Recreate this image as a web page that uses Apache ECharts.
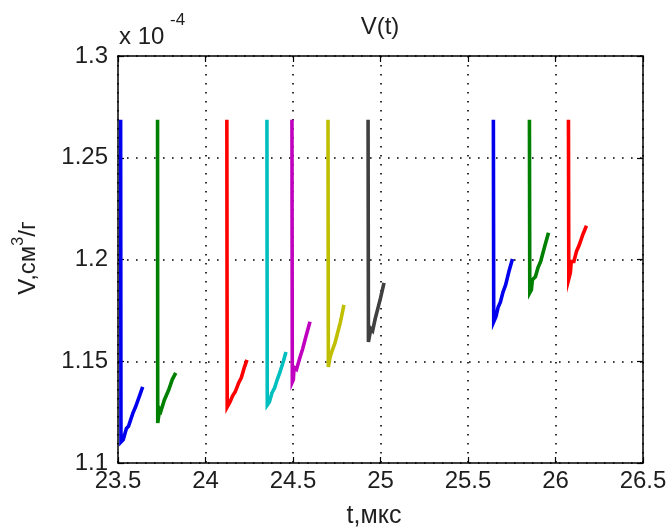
<!DOCTYPE html>
<html>
<head>
<meta charset="utf-8">
<script src="https://cdn.jsdelivr.net/npm/echarts@6/dist/echarts.min.js"></script>
<style>
  html, body { margin: 0; padding: 0; background: #ffffff; }
  #chart { width: 671px; height: 530px; }
</style>
</head>
<body>
<div id="chart"></div>
<script>
// Specific volume V (×10^-4 см³/г) against time t (мкс): each pulse drops V
// from the common upper level, after which it climbs back slowly.
const xTicks = [23.5, 24, 24.5, 25, 25.5, 26, 26.5];
const yTicks = [1.1, 1.15, 1.2, 1.25, 1.3];

const pulse1T = [23.515, 23.517, 23.530, 23.548, 23.560, 23.585, 23.600, 23.625, 23.641];
const pulse1V = [1.2687, 1.1103, 1.1115, 1.1170, 1.1180, 1.1245, 1.1275, 1.1335, 1.1374];

const pulse2T = [23.726, 23.727, 23.735, 23.738, 23.745, 23.765, 23.790, 23.810, 23.830];
const pulse2V = [1.2687, 1.1197, 1.1200, 1.1265, 1.1255, 1.1310, 1.1360, 1.1410, 1.1443];

const pulse3T = [24.122, 24.124, 24.140, 24.155, 24.170, 24.190, 24.205, 24.222, 24.237];
const pulse3V = [1.2687, 1.1275, 1.1300, 1.1330, 1.1350, 1.1395, 1.1420, 1.1470, 1.1507];

const pulse4T = [24.351, 24.353, 24.365, 24.380, 24.395, 24.410, 24.425, 24.445, 24.460];
const pulse4V = [1.2687, 1.1285, 1.1300, 1.1345, 1.1370, 1.1410, 1.1445, 1.1500, 1.1546];

const pulse5T = [24.494, 24.496, 24.502, 24.506, 24.520, 24.540, 24.555, 24.575, 24.597];
const pulse5V = [1.2687, 1.1398, 1.1410, 1.1470, 1.1460, 1.1520, 1.1560, 1.1625, 1.1694];

const pulse6T = [24.700, 24.702, 24.712, 24.725, 24.740, 24.755, 24.770, 24.780, 24.791];
const pulse6V = [1.2687, 1.1472, 1.1520, 1.1555, 1.1590, 1.1640, 1.1690, 1.1730, 1.1777];

const pulse7T = [24.929, 24.931, 24.940, 24.945, 24.955, 24.970, 24.985, 25.000, 25.020];
const pulse7V = [1.2687, 1.1595, 1.1600, 1.1660, 1.1650, 1.1710, 1.1760, 1.1810, 1.1885];

const pulse8T = [25.645, 25.647, 25.660, 25.672, 25.685, 25.700, 25.715, 25.735, 25.754];
const pulse8V = [1.2687, 1.1694, 1.1720, 1.1765, 1.1790, 1.1840, 1.1875, 1.1945, 1.2003];

const pulse9T = [25.851, 25.853, 25.862, 25.868, 25.885, 25.900, 25.915, 25.940, 25.960];
const pulse9V = [1.2687, 1.1836, 1.1850, 1.1900, 1.1915, 1.1960, 1.1990, 1.2070, 1.2131];

const pulse10T = [26.074, 26.076, 26.085, 26.090, 26.105, 26.120, 26.135, 26.155, 26.177];
const pulse10V = [1.2687, 1.1905, 1.1935, 1.1990, 1.1990, 1.2040, 1.2070, 1.2120, 1.2166];

// classic colour order, cycling after seven lines
const lineColors = ['#0000ee', '#008000', '#ff0000', '#00bfbf', '#bf00bf', '#bfbf00', '#404040'];

const pulses = [
  [pulse1T, pulse1V], [pulse2T, pulse2V], [pulse3T, pulse3V], [pulse4T, pulse4V],
  [pulse5T, pulse5V], [pulse6T, pulse6V], [pulse7T, pulse7V], [pulse8T, pulse8V],
  [pulse9T, pulse9V], [pulse10T, pulse10V]
];

const FONT = 'Liberation Sans, Arial, sans-serif';
const TEXT = '#1e1e1e';

const series = pulses.map(function (p, i) {
  return {
    type: 'line',
    xAxisIndex: 0,
    yAxisIndex: 0,
    data: p[0].map(function (t, k) { return [t, p[1][k]]; }),
    showSymbol: false,
    lineStyle: { color: lineColors[i % lineColors.length], width: 3.6, join: 'miter' },
    z: 3,
    silent: true
  };
});

const xMin = xTicks[0], xMax = xTicks[xTicks.length - 1], xStep = xTicks[1] - xTicks[0];
const yMin = yTicks[0], yMax = yTicks[yTicks.length - 1], yStep = 0.05;

const boxLine = { show: true, onZero: false, lineStyle: { color: '#000', width: 1.5 } };
const dotted = { show: true, lineStyle: { color: '#000', width: 1.6, type: [1.6, 7.4] } };
const tickIn = { show: true, inside: true, length: 6, lineStyle: { color: '#000', width: 1.2 } };
const fmt = function (v) { return String(+v.toFixed(2)); };

const chart = echarts.init(document.getElementById('chart'), null, { renderer: 'canvas' });
chart.setOption({
  animation: false,
  backgroundColor: '#ffffff',
  grid: { left: 118, right: 28, top: 56, bottom: 67, containLabel: false },
  xAxis: [
    {
      type: 'value', position: 'bottom', min: xMin, max: xMax, interval: xStep,
      axisLine: boxLine, axisTick: tickIn,
      axisLabel: { show: true, fontSize: 24, color: TEXT, fontFamily: FONT, margin: 6, formatter: fmt },
      splitLine: dotted
    },
    {
      type: 'value', position: 'top', min: xMin, max: xMax, interval: xStep,
      axisLine: boxLine, axisTick: tickIn,
      axisLabel: { show: false }, splitLine: { show: false }
    }
  ],
  yAxis: [
    {
      type: 'value', position: 'left', min: yMin, max: yMax, interval: yStep,
      axisLine: boxLine, axisTick: tickIn,
      axisLabel: { show: true, fontSize: 24, color: TEXT, fontFamily: FONT, margin: 10, formatter: fmt },
      splitLine: dotted
    },
    {
      type: 'value', position: 'right', min: yMin, max: yMax, interval: yStep,
      axisLine: boxLine, axisTick: tickIn,
      axisLabel: { show: false }, splitLine: { show: false }
    }
  ],
  graphic: [
    { type: 'text', x: 380, y: 27, style: { text: 'V(t)', fontSize: 24, fontFamily: FONT, fill: TEXT, align: 'center', verticalAlign: 'middle' } },
    { type: 'text', x: 119, y: 37, style: { text: 'x 10', fontSize: 24, fontFamily: FONT, fill: TEXT, align: 'left', verticalAlign: 'middle' } },
    { type: 'text', x: 170, y: 20, style: { text: '-4', fontSize: 17, fontFamily: FONT, fill: TEXT, align: 'left', verticalAlign: 'middle' } },
    { type: 'text', x: 374, y: 516, style: { text: 't,мкс', fontSize: 25, fontFamily: FONT, fill: TEXT, align: 'center', verticalAlign: 'middle' } },
    {
      type: 'text', x: 28, y: 258, rotation: Math.PI / 2,
      style: {
        text: 'V,см{s|3}/г', fontSize: 24, fontFamily: FONT, fill: TEXT, align: 'center', verticalAlign: 'middle',
        rich: { s: { fontSize: 16, fontFamily: FONT, fill: TEXT, verticalAlign: 'top', padding: [0, 0, 18, 0] } }
      }
    }
  ],
  series: series
});
</script>
</body>
</html>
